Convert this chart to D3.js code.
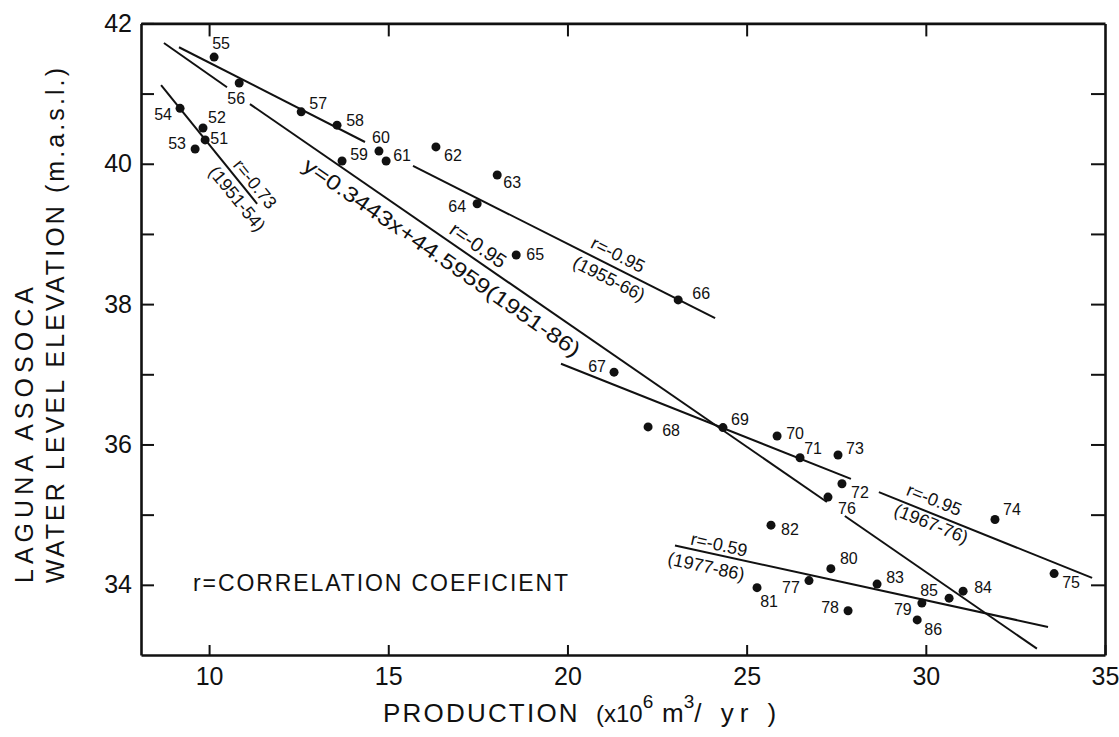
<!DOCTYPE html>
<html>
<head>
<meta charset="utf-8">
<script src="https://cdn.jsdelivr.net/npm/d3@7"></script>
<style>
body { margin: 0; background: #fff; }
svg { display: block; }
text { font-family: "Liberation Sans", Arial, sans-serif; fill: #111; }
</style>
</head>
<body>
<script>
// year of record (19xx), production (x10^6 m3/yr), lake level (m.a.s.l.)
var years = ["51","52","53","54","55","56","57","58","59","60","61","62","63","64","65","66","67","68",
             "69","70","71","72","73","74","75","76","77","78","79","80","81","82","83","84","85","86"];
var production = [9.89, 9.83, 9.61, 9.19, 10.14, 10.84, 12.57, 13.57, 13.71, 14.74, 14.94, 16.33, 18.04, 17.48,
                  18.57, 23.09, 21.30, 22.25, 24.34, 25.85, 26.49, 27.66, 27.55, 31.93, 33.58, 27.27, 26.74,
                  27.83, 29.89, 27.35, 25.29, 25.68, 28.64, 31.04, 30.65, 29.76];
var elevation = [40.34, 40.51, 40.21, 40.79, 41.52, 41.15, 40.74, 40.55, 40.04, 40.18, 40.04, 40.24, 39.84, 39.43,
                 38.70, 38.06, 37.03, 36.25, 36.24, 36.12, 35.81, 35.44, 35.85, 34.93, 34.16, 35.25, 34.06,
                 33.63, 33.74, 34.23, 33.96, 34.85, 34.01, 33.91, 33.81, 33.50];

// fitted lines: period, r, drawn pieces [x0, y0, x1, y1] (broken where labels sit)
var fitPeriods = ["(1951-54)", "(1955-66)", "(1967-76)", "(1977-86)", "(1951-86)"];
var fitR = ["r=-0.73", "r=-0.95", "r=-0.95", "r=-0.59", "r=-0.95"];
var fitPieces = [
  [[8.66, 41.12, 11.34, 39.43]],
  [[9.16, 41.66, 14.35, 40.31], [15.69, 39.97, 24.12, 37.80]],
  [[19.82, 37.15, 27.91, 35.51], [28.69, 35.32, 34.64, 34.10]],
  [[23.00, 34.56, 33.41, 33.40]],
  [[8.74, 41.72, 10.50, 41.09], [11.14, 40.85, 27.24, 35.18], [27.74, 34.98, 33.10, 33.09]]
];
var equation = "y=0.3443x+44.5959";

var xTicks = [10, 15, 20, 25, 30, 35];
var yTicks = [34, 35, 36, 37, 38, 39, 40, 41, 42];

var width = 1119, height = 737;

var x = d3.scaleLinear().domain([8.1, 35]).range([141, 1105]);
var y = d3.scaleLinear().domain([33, 42]).range([655, 23.4]);

// where each year label sits around its dot (px)
var labelOffset = {
  "51":[14,-1], "52":[14,-10], "53":[-18,-6], "54":[-17,6], "55":[7,-14], "56":[-3,15], "57":[17,-8],
  "58":[18,-5], "59":[17,-6], "60":[2,-14], "61":[16,-5], "62":[17,9], "63":[15,8], "64":[-20,3],
  "65":[19,0], "66":[23,-6], "67":[-17,-6], "68":[23,4], "69":[17,-8], "70":[18,-3], "71":[13,-9],
  "72":[18,9], "73":[17,-6], "74":[17,-10], "75":[17,9], "76":[19,11], "77":[-18,7], "78":[-18,-3],
  "79":[-19,6], "80":[18,-10], "81":[12,14], "82":[19,4], "83":[18,-7], "84":[20,-4], "85":[-20,-8],
  "86":[16,10]
};

// rotated notes along the fitted lines (anchor in data units)
var notes = [
  {fit:0, text:fitR[0], at:[11.28, 39.71], size:18},
  {fit:0, text:fitPeriods[0], at:[10.78, 39.50], size:18},
  {fit:1, text:fitR[1], at:[21.41, 38.70], size:18},
  {fit:1, text:fitPeriods[1], at:[21.16, 38.36], size:18},
  {fit:2, text:fitR[2], at:[30.23, 35.21], size:18},
  {fit:2, text:fitPeriods[2], at:[30.15, 34.87], size:18},
  {fit:3, text:fitR[3], at:[24.23, 34.57], size:18},
  {fit:3, text:fitPeriods[3], at:[23.87, 34.26], size:18},
  {fit:4, text:fitR[4], at:[17.51, 38.84], size:20},
  {fit:4, text:equation + fitPeriods[4], at:[16.50, 38.67], size:21, len:332}
];

var svg = d3.select("body").append("svg")
    .attr("width", width)
    .attr("height", height);

svg.append("rect").attr("width", width).attr("height", height).attr("fill", "#fff");

// axes, ticks pointing inward
var axisStroke = function(g) {
  g.select(".domain").attr("stroke", "#111").attr("stroke-width", 2.6);
  g.selectAll(".tick line").attr("stroke", "#111").attr("stroke-width", 2);
  g.selectAll(".tick text").style("font-size", "25px").attr("fill", "#111");
};

svg.append("g")
    .attr("transform", "translate(0," + y(33) + ")")
    .call(d3.axisBottom(x).tickValues(xTicks).tickSizeInner(-10).tickSizeOuter(0).tickPadding(12))
    .call(axisStroke);

svg.append("g")
    .attr("transform", "translate(0," + y(42) + ")")
    .call(d3.axisTop(x).tickValues(xTicks.slice(0, 5)).tickSizeInner(-13).tickSizeOuter(0).tickFormat(""))
    .call(axisStroke);

svg.append("g")
    .attr("transform", "translate(" + x(8.1) + ",0)")
    .call(d3.axisLeft(y).tickValues(yTicks).tickSizeInner(-13).tickSizeOuter(0).tickPadding(9)
      .tickFormat(function(d) { return d % 2 === 0 ? d : ""; }))
    .call(axisStroke);

svg.append("g")
    .attr("transform", "translate(" + x(35) + ",0)")
    .call(d3.axisRight(y).tickValues(yTicks.slice(0, 8)).tickSizeInner(-14).tickSizeOuter(0).tickFormat(""))
    .call(axisStroke);

// fitted lines
var pieces = [];
fitPieces.forEach(function(p, i) { p.forEach(function(s) { pieces.push({fit: i, s: s}); }); });

svg.append("g").selectAll("line")
    .data(pieces)
    .enter().append("line")
    .attr("x1", function(d) { return x(d.s[0]); })
    .attr("y1", function(d) { return y(d.s[1]); })
    .attr("x2", function(d) { return x(d.s[2]); })
    .attr("y2", function(d) { return y(d.s[3]); })
    .attr("stroke", "#111")
    .attr("stroke-width", 2);

// angle of a fitted line on screen
var angle = function(i) {
  var first = fitPieces[i][0], last = fitPieces[i][fitPieces[i].length - 1];
  var dx = x(last[2]) - x(first[0]), dy = y(last[3]) - y(first[1]);
  return Math.atan2(dy, dx) * 180 / Math.PI;
};

svg.append("g").selectAll("text")
    .data(notes)
    .enter().append("text")
    .attr("transform", function(d) {
      return "translate(" + x(d.at[0]) + "," + y(d.at[1]) + ") rotate(" + angle(d.fit) + ")";
    })
    .attr("text-anchor", "middle")
    .attr("dominant-baseline", "central")
    .attr("textLength", function(d) { return d.len || null; })
    .attr("lengthAdjust", "spacingAndGlyphs")
    .style("font-size", function(d) { return d.size + "px"; })
    .text(function(d) { return d.text; });

// points
var points = years.map(function(yr, i) { return {year: yr, p: production[i], e: elevation[i]}; });

svg.append("g").selectAll("circle")
    .data(points)
    .enter().append("circle")
    .attr("cx", function(d) { return x(d.p); })
    .attr("cy", function(d) { return y(d.e); })
    .attr("r", 4.5)
    .attr("fill", "#111");

svg.append("g").selectAll("text")
    .data(points)
    .enter().append("text")
    .attr("x", function(d) { return x(d.p) + labelOffset[d.year][0]; })
    .attr("y", function(d) { return y(d.e) + labelOffset[d.year][1]; })
    .attr("text-anchor", "middle")
    .attr("dominant-baseline", "central")
    .style("font-size", "16px")
    .text(function(d) { return d.year; });

// legend note
svg.append("text")
    .attr("x", 193)
    .attr("y", 591)
    .attr("textLength", 375)
    .attr("lengthAdjust", "spacing")
    .style("font-size", "23px")
    .text("r=CORRELATION COEFICIENT");

// axis titles
var xt = svg.append("text")
    .attr("x", 383)
    .attr("y", 722)
    .style("font-size", "26px");
xt.append("tspan").style("letter-spacing", "2.2px").text("PRODUCTION");
xt.append("tspan").attr("x", 596).style("font-size", "24px").text("(x10");
xt.append("tspan").attr("dy", -14).style("font-size", "19px").text("6");
xt.append("tspan").attr("x", 662).attr("dy", 14).text("m");
xt.append("tspan").attr("dy", -14).style("font-size", "19px").text("3");
xt.append("tspan").attr("dy", 14).style("letter-spacing", "6px").text("/ yr )");

svg.append("text")
    .attr("transform", "translate(33,583) rotate(-90)")
    .attr("textLength", 296)
    .attr("lengthAdjust", "spacing")
    .style("font-size", "25px")
    .text("LAGUNA  ASOSOCA");

svg.append("text")
    .attr("transform", "translate(64,583) rotate(-90)")
    .attr("textLength", 515)
    .attr("lengthAdjust", "spacing")
    .style("font-size", "25px")
    .text("WATER LEVEL ELEVATION (m.a.s.l.)");
</script>
</body>
</html>
